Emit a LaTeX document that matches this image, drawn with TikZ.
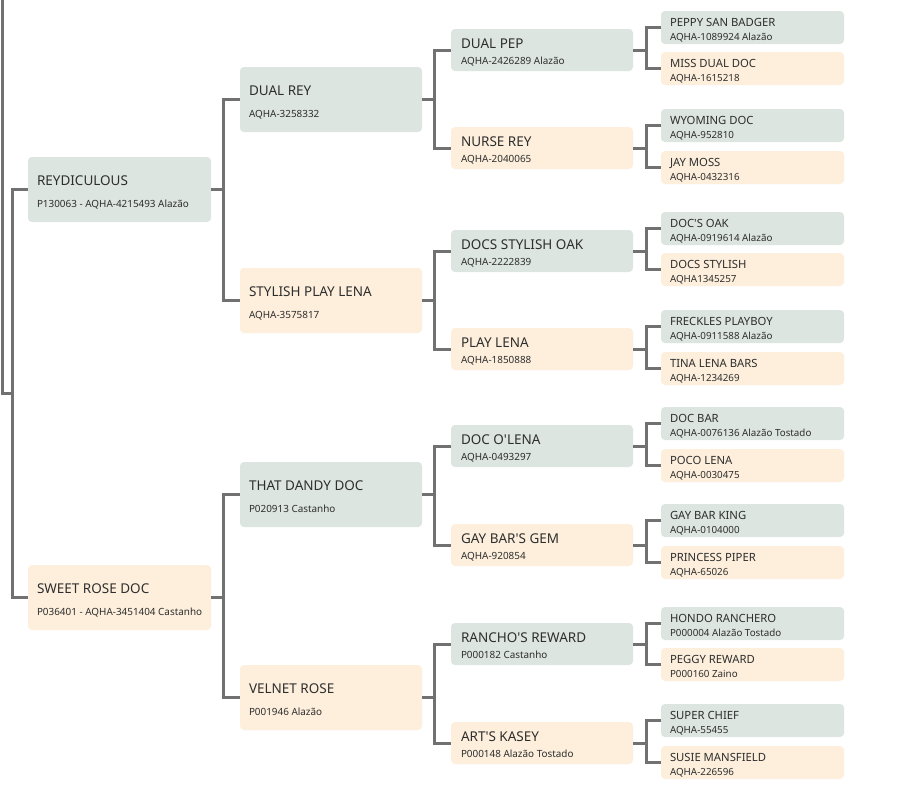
\documentclass[tikz,border=0pt]{standalone}
\usepackage{fontspec}
\setmainfont{Noto Sans}
\definecolor{grn}{HTML}{DCE5E0}
\definecolor{crm}{HTML}{FDEFDC}
\definecolor{lnc}{HTML}{717171}
\definecolor{txc}{HTML}{2E2E2E}
\newcommand\pbox[6]{%
  \node[hbox, fill=#4, minimum width=\bw, minimum height=\bh, anchor=north west] (#1) at (#2,#3) {};
  \node[hlabel, font=\tfnt, anchor=base west] (#1-t) at (#2+\tx,#3+\tb) {#5};
  \node[hlabel, font=\sfnt, anchor=base west] (#1-s) at (#2+\tx,#3+\sb) {#6};
}
\newcommand\tee[4]{%
  \path (#1.east) ++(#4,0) coordinate (#1-j);
  \draw[conn] (#1.east) -- (#1-j);
  \draw[conn] (#2.west) -| (#1-j) |- (#3.west);
}
\newcommand\q{\textquotesingle}
\begin{document}
\begin{tikzpicture}[x=1pt,y=-1pt,
  hbox/.style={rectangle, rounded corners=4pt, draw=none, inner sep=0pt, outer sep=0pt},
  hlabel/.style={inner sep=0pt, outer sep=0pt, text=txc},
  conn/.style={draw=lnc, line width=3pt}]
\fill[white] (0,0) rectangle (913,795);
\useasboundingbox (0,0) rectangle (913,795);
% generation 1
\def\bw{183pt}\def\bh{65pt}\def\tx{9}\def\tb{28}\def\sb{50}
\def\tfnt{\fontsize{13.5}{16}\selectfont}\def\sfnt{\fontsize{9.9}{11}\selectfont}
\pbox{r1}{28}{157}{grn}{REYDICULOUS}{P130063 - AQHA-4215493 Alazão}
\pbox{r2}{28}{565}{crm}{SWEET ROSE DOC}{P036401 - AQHA-3451404 Castanho}
% generation 2
\def\bw{182pt}
\pbox{a1}{240}{67}{grn}{DUAL REY}{AQHA-3258332}
\pbox{a2}{240}{268}{crm}{STYLISH PLAY LENA}{AQHA-3575817}
\pbox{a3}{240}{462}{grn}{THAT DANDY DOC}{P020913 Castanho}
\pbox{a4}{240}{665}{crm}{VELNET ROSE}{P001946 Alazão}
% generation 3
\def\bw{182pt}\def\bh{42pt}\def\tx{10}\def\tb{19}\def\sb{35}
\pbox{b1}{451}{29}{grn}{DUAL PEP}{AQHA-2426289 Alazão}
\pbox{b2}{451}{127}{crm}{NURSE REY}{AQHA-2040065}
\pbox{b3}{451}{230}{grn}{DOCS STYLISH OAK}{AQHA-2222839}
\pbox{b4}{451}{328}{crm}{PLAY LENA}{AQHA-1850888}
\pbox{b5}{451}{425}{grn}{DOC O\q LENA}{AQHA-0493297}
\pbox{b6}{451}{524}{crm}{GAY BAR\q S GEM}{AQHA-920854}
\pbox{b7}{451}{623}{grn}{RANCHO\q S REWARD}{P000182 Castanho}
\pbox{b8}{451}{722}{crm}{ART\q S KASEY}{P000148 Alazão Tostado}
% generation 4
\def\bw{183pt}\def\bh{33pt}\def\tx{9}\def\tb{15}\def\sb{29}
\def\tfnt{\fontsize{11.3}{13}\selectfont}\def\sfnt{\fontsize{9.8}{11}\selectfont}
\pbox{c1}{661}{11}{grn}{PEPPY SAN BADGER}{AQHA-1089924 Alazão}
\pbox{c2}{661}{52}{crm}{MISS DUAL DOC}{AQHA-1615218}
\pbox{c3}{661}{109}{grn}{WYOMING DOC}{AQHA-952810}
\pbox{c4}{661}{151}{crm}{JAY MOSS}{AQHA-0432316}
\pbox{c5}{661}{212}{grn}{DOC\q S OAK}{AQHA-0919614 Alazão}
\pbox{c6}{661}{253}{crm}{DOCS STYLISH}{AQHA1345257}
\pbox{c7}{661}{310}{grn}{FRECKLES PLAYBOY}{AQHA-0911588 Alazão}
\pbox{c8}{661}{352}{crm}{TINA LENA BARS}{AQHA-1234269}
\pbox{c9}{661}{407}{grn}{DOC BAR}{AQHA-0076136 Alazão Tostado}
\pbox{c10}{661}{449}{crm}{POCO LENA}{AQHA-0030475}
\pbox{c11}{661}{504}{grn}{GAY BAR KING}{AQHA-0104000}
\pbox{c12}{661}{546}{crm}{PRINCESS PIPER}{AQHA-65026}
\pbox{c13}{661}{607}{grn}{HONDO RANCHERO}{P000004 Alazão Tostado}
\pbox{c14}{661}{648}{crm}{PEGGY REWARD}{P000160 Zaino}
\pbox{c15}{661}{704}{grn}{SUPER CHIEF}{AQHA-55455}
\pbox{c16}{661}{746}{crm}{SUSIE MANSFIELD}{AQHA-226596}
% connectors
\coordinate (rtop) at (2,0);
\coordinate (rj) at (12,393.5);
\draw[conn] (rtop) |- (rj);
\draw[conn] (r1.west) -| (rj) |- (r2.west);
\tee{r1}{a1}{a2}{12}
\tee{r2}{a3}{a4}{12}
\tee{a1}{b1}{b2}{12}
\tee{a2}{b3}{b4}{12}
\tee{a3}{b5}{b6}{12}
\tee{a4}{b7}{b8}{12}
\tee{b1}{c1}{c2}{13}
\tee{b2}{c3}{c4}{13}
\tee{b3}{c5}{c6}{13}
\tee{b4}{c7}{c8}{13}
\tee{b5}{c9}{c10}{13}
\tee{b6}{c11}{c12}{13}
\tee{b7}{c13}{c14}{13}
\tee{b8}{c15}{c16}{13}
\end{tikzpicture}
\end{document}
